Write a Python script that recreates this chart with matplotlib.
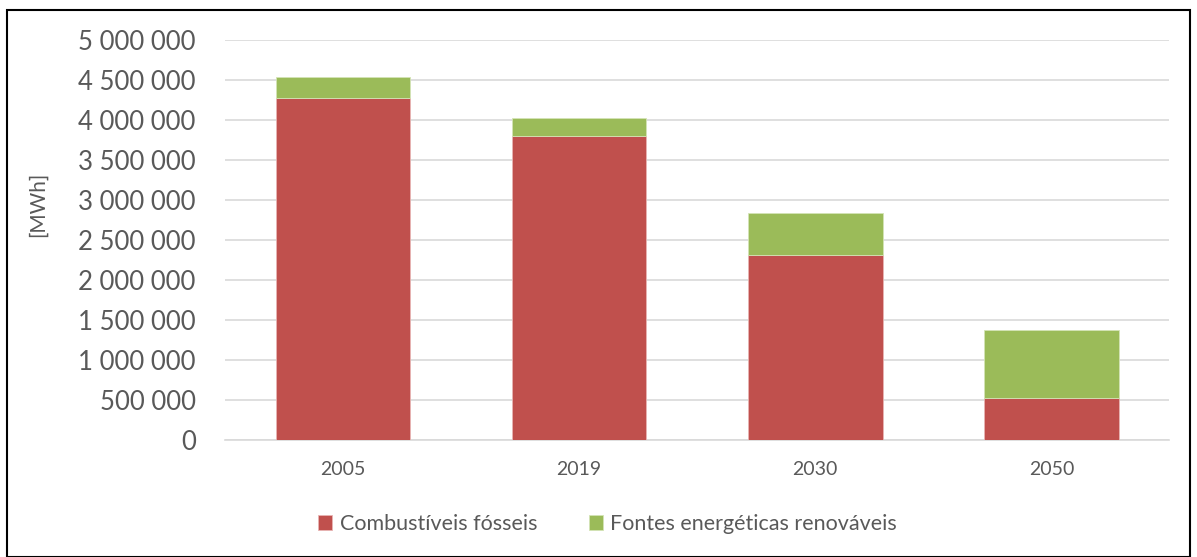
import matplotlib
matplotlib.use("Agg")
import matplotlib.pyplot as plt
from matplotlib.ticker import FuncFormatter
from matplotlib.patches import Rectangle

years = ["2005", "2019", "2030", "2050"]
fossil = [4280000, 3796000, 2317000, 529000]
renewable = [255000, 229000, 516000, 846000]

red = "#C0504D"
green = "#9BBB59"
grey = "#595959"

plt.rcParams["font.family"] = ["Lato", "DejaVu Sans"]

fig = plt.figure(figsize=(11.97, 5.57), dpi=100)
ax = fig.add_axes([0.188, 0.21, 0.789, 0.718])

x = range(len(years))
ax.bar(x, fossil, width=0.57, color=red, edgecolor="#E8B5B4", linewidth=0.6,
       label="Combustíveis fósseis", zorder=3)
ax.bar(x, renewable, width=0.57, bottom=fossil, color=green, edgecolor="#D4E4B6",
       linewidth=0.6, label="Fontes energéticas renováveis", zorder=3)

ax.set_ylim(0, 5000000)
ax.set_xlim(-0.5, 3.5)
ax.set_yticks(range(0, 5000001, 500000))
ax.yaxis.set_major_formatter(FuncFormatter(lambda v, p: f"{int(v):,}".replace(",", " ")))
ax.set_xticks(list(x))
ax.set_xticklabels(years)

ax.grid(axis="y", color="#D9D9D9", linewidth=1.2, zorder=0)
for s in ["top", "right", "left"]:
    ax.spines[s].set_visible(False)
ax.spines["bottom"].set_color("#D9D9D9")
ax.spines["bottom"].set_linewidth(1.2)
ax.tick_params(axis="y", length=0, labelsize=18.5, labelcolor=grey, pad=21)
ax.tick_params(axis="x", length=0, labelsize=14, labelcolor=grey, pad=15)
ax.set_ylabel("[MWh]", fontsize=15, color=grey)
ax.yaxis.set_label_coords(-0.188, 0.59)

ax.legend(loc="center", bbox_to_anchor=(0.405, -0.21), ncol=2, frameon=False,
          fontsize=15.5, labelcolor=grey, handlelength=0.65, handleheight=0.65,
          handletextpad=0.35, columnspacing=2.4)

fig.patches.append(Rectangle((0.006, 0.0), 0.988, 0.982, transform=fig.transFigure,
                             fill=False, edgecolor="black", linewidth=1.5))

fig.savefig("out.png", dpi=100)
